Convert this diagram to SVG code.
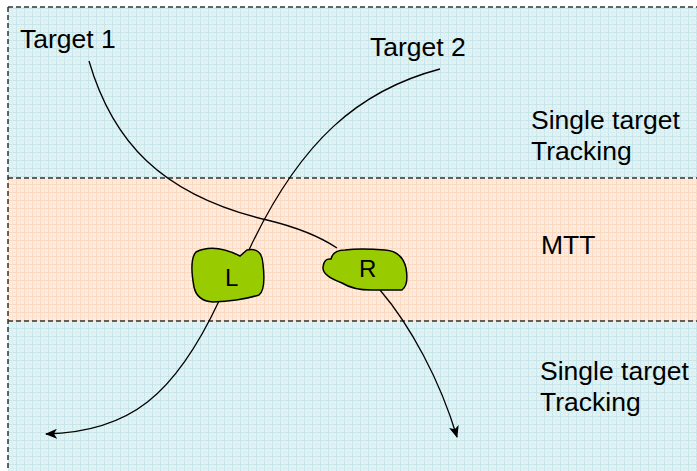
<svg xmlns="http://www.w3.org/2000/svg" width="697" height="471" viewBox="0 0 697 471">
<defs>
<pattern id="gb" width="8" height="8" patternUnits="userSpaceOnUse">
<rect width="8" height="8" fill="#e2f3f5"/>
<path d="M0,0.5H8M0.5,0V8" stroke="#c6e5ea" stroke-width="1"/>
<path d="M0,4.5H8M4.5,0V8" stroke="#d8eef1" stroke-width="1"/>
</pattern>
<pattern id="go" width="8" height="8" patternUnits="userSpaceOnUse">
<rect width="8" height="8" fill="#feecdf"/>
<path d="M0,0.5H8M0.5,0V8" stroke="#fbd8bd" stroke-width="1"/>
<path d="M0,4.5H8M4.5,0V8" stroke="#fce2cf" stroke-width="1"/>
</pattern>
<marker id="arr" viewBox="0 0 12 10" refX="11" refY="5" markerWidth="12" markerHeight="10" markerUnits="userSpaceOnUse" orient="auto">
<path d="M0,0 L12,5 L0,10 L3,5 Z" fill="#000"/>
</marker>
<style>
.t{font-family:"Liberation Sans",Arial,sans-serif;font-size:26.5px;fill:#000}
.d{stroke:#333;stroke-width:1.5;stroke-dasharray:5,3;fill:none}
.c{stroke:#000;stroke-width:1.3;fill:none}
.b{fill:#99cc00;stroke:#000;stroke-width:1.5}
</style>
</defs>
<g id="background">
<rect x="8" y="7" width="689" height="171" fill="url(#gb)"/>
<rect x="8" y="178" width="689" height="143" fill="url(#go)"/>
<rect x="8" y="321" width="689" height="150" fill="url(#gb)"/>
<path class="d" d="M8,7H697M8,178H697M8,321H697M8,7V471"/>
</g>
<g id="labels">
<text class="t" x="20" y="48">Target 1</text>
<text class="t" x="370" y="56">Target 2</text>
<text class="t" x="531" y="129">Single target</text>
<text class="t" x="531" y="160">Tracking</text>
<text class="t" x="541" y="254">MTT</text>
<text class="t" x="540" y="380">Single target</text>
<text class="t" x="540" y="411">Tracking</text>
</g>
<g id="connectors">
<path class="c" d="M89,61 C112,140 160,195 267,220 C300,228 322,238 337,248"/>
<path class="c" marker-end="url(#arr)" d="M380,290 C410,325 440,380 457,437"/>
<path class="c" d="M440,69 C360,90 300,140 248,252"/>
<path class="c" marker-end="url(#arr)" d="M219,301 C175,395 130,432 46,434"/>
</g>
<g id="node-L">
<path class="b" d="M196,252 Q214,243 240,256 L247,250 Q262,247 263,264 Q266,290 259,295 Q240,301 213,302 Q197,301 194,287 Q189,260 196,252 Z"/>
<text class="t" x="225" y="286" style="font-size:24px">L</text>
</g>
<g id="node-R">
<path class="b" d="M331,259 Q333,250 345,250 Q360,248 385,250 Q402,251 406,268 Q409,285 402,290 L376,290 Q355,291 342,283 Q322,276 323,267 Q324,258 331,259 Z"/>
<text class="t" x="359" y="277" style="font-size:24px">R</text>
</g>
</svg>
